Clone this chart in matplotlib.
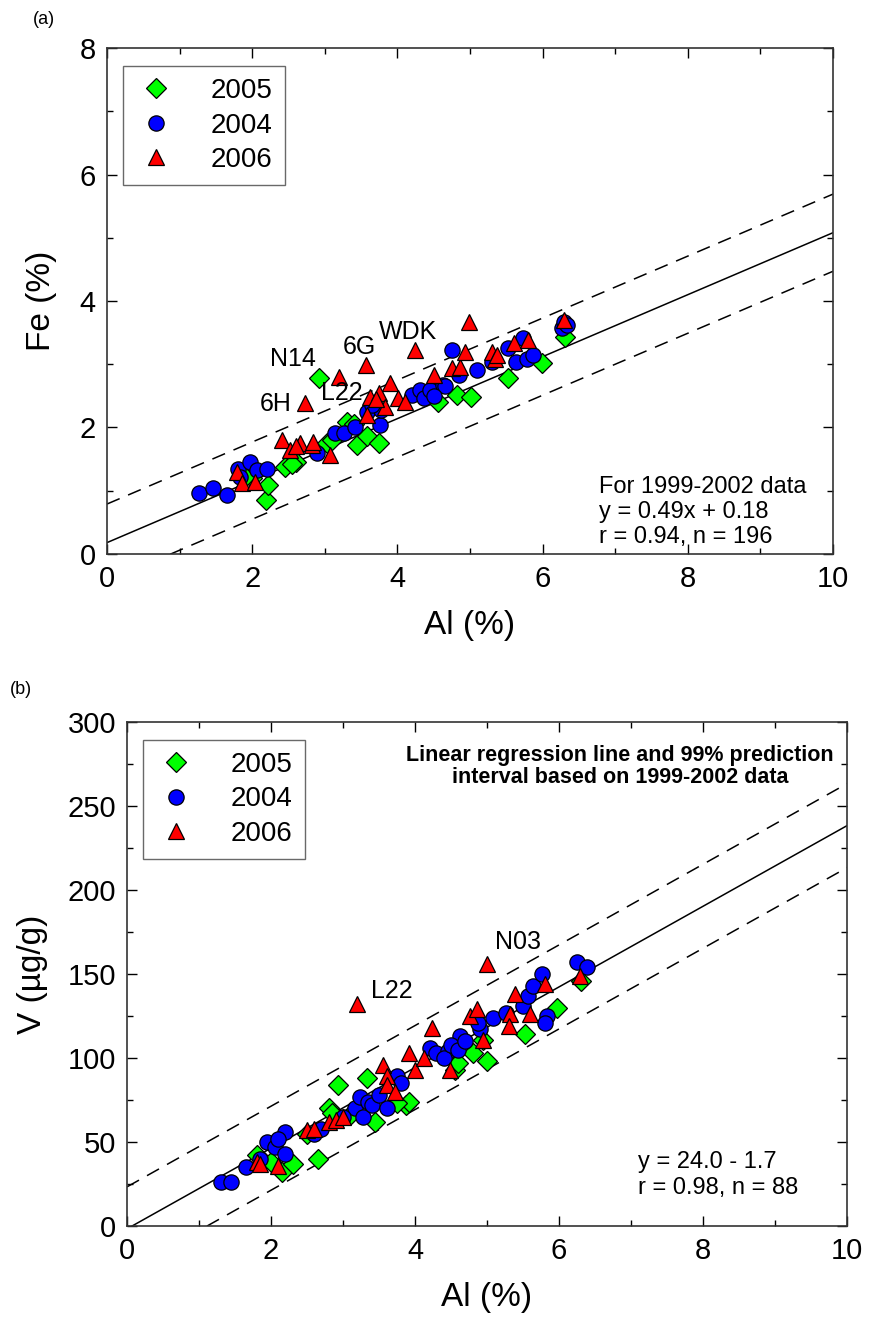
import matplotlib
matplotlib.use("Agg")
import matplotlib.pyplot as plt
import numpy as np
from matplotlib.ticker import MultipleLocator

plt.rcParams['font.family'] = ['Liberation Sans', 'DejaVu Sans']

# ---------------- Panel (a) data: Al (%) vs Fe (%) ----------------
a_2005_al = [2.92, 2.19, 2.22, 2.00, 2.45, 2.61, 2.55, 3.03, 3.30, 3.44, 3.58, 3.74, 3.40,
             4.56, 4.82, 5.02, 5.53, 5.99, 6.31, 1.90, 3.10]
a_2005_fe = [2.79, 0.85, 1.09, 1.20, 1.38, 1.46, 1.42, 1.75, 2.09, 1.72, 1.86, 1.75, 2.05,
             2.41, 2.51, 2.49, 2.78, 3.02, 3.43, 1.22, 1.80]

a_2004_al = [1.27, 1.46, 1.65, 1.81, 1.97, 2.06, 2.20, 1.83, 2.89, 3.14, 3.26, 3.42, 3.58,
             3.76, 3.77, 4.20, 4.31, 4.36, 4.45, 4.63, 4.66, 4.75, 5.09, 5.30, 5.53, 5.73,
             5.64, 5.78, 5.87, 6.27, 6.29, 6.33, 3.65, 4.50, 4.85]
a_2004_fe = [0.96, 1.04, 0.93, 1.35, 1.46, 1.33, 1.35, 1.22, 1.59, 1.91, 1.91, 2.01, 2.25,
             2.04, 2.28, 2.51, 2.59, 2.46, 2.59, 2.67, 2.65, 3.22, 2.91, 3.04, 3.25, 3.41,
             3.04, 3.09, 3.15, 3.58, 3.67, 3.62, 2.35, 2.50, 2.83]

a_2006_al = [1.79, 1.86, 2.04, 2.41, 2.52, 2.66, 2.82, 2.84, 3.07, 2.73, 3.19, 3.57, 4.24,
             4.99, 3.58, 3.62, 3.74, 3.83, 3.90, 4.01, 4.10, 4.50, 4.75, 4.86, 4.93, 5.30,
             5.34, 5.37, 5.60, 5.80, 6.29, 2.60, 3.70]
a_2006_fe = [1.30, 1.12, 1.14, 1.80, 1.64, 1.75, 1.72, 1.77, 1.56, 2.38, 2.80, 2.99, 3.22,
             3.67, 2.20, 2.49, 2.54, 2.33, 2.70, 2.46, 2.41, 2.83, 2.94, 2.96, 3.20, 3.20,
             3.09, 3.15, 3.33, 3.38, 3.70, 1.70, 2.45]

a_labels = ["N14", "6H", "L22", "6G", "WDK"]
a_label_x = [2.56, 2.33, 3.23, 3.48, 4.14]
a_label_y = [3.08, 2.37, 2.55, 3.27, 3.51]

a_slope, a_intercept, a_pi = 0.49, 0.18, 0.61

# ---------------- Panel (b) data: Al (%) vs V (ug/g) ----------------
b_2005_al = [1.80, 2.00, 2.15, 2.30, 2.65, 2.50, 2.80, 2.85, 2.93, 3.33, 3.45, 3.87, 3.91,
             3.75, 4.55, 4.60, 4.80, 5.00, 5.53, 5.97, 6.30, 4.95, 3.10]
b_2005_v = [42, 38, 32, 37, 40, 55, 70, 67, 84, 88, 62, 72, 74,
            73, 93, 97, 103, 98, 114, 130, 146, 111, 66]

b_2004_al = [1.30, 1.45, 1.65, 1.85, 1.95, 2.05, 2.20, 2.20, 2.60, 2.70, 3.16, 3.24, 3.28,
             3.35, 3.40, 3.61, 3.75, 3.80, 4.21, 4.29, 4.46, 4.40, 4.63, 4.90, 4.88, 5.09,
             5.27, 5.50, 5.57, 5.64, 5.76, 5.83, 5.81, 6.25, 6.39, 4.50, 4.60, 4.70, 3.50,
             3.00, 2.10]
b_2004_v = [26, 26, 35, 40, 50, 47, 56, 43, 55, 58, 70, 77, 65,
            74, 72, 70, 89, 85, 106, 103, 104, 100, 113, 117, 121, 124,
            127, 131, 137, 143, 150, 125, 121, 157, 154, 108, 105, 110, 78,
            65, 52]

b_2006_al = [1.80, 1.85, 2.10, 2.50, 2.60, 2.80, 2.90, 3.00, 3.19, 3.56, 3.61, 3.61, 3.72,
             3.91, 4.00, 4.12, 4.23, 4.49, 4.76, 4.86, 4.94, 5.00, 5.32, 5.30, 5.39, 5.60,
             5.81, 6.29]
b_2006_v = [38, 37, 36, 57, 58, 62, 63, 65, 132, 96, 89, 84, 80,
            103, 93, 100, 118, 93, 125, 129, 111, 156, 126, 119, 138, 126,
            144, 149]

b_labels = ["L22", "N03"]
b_label_x = [3.68, 5.43]
b_label_y = [140, 169]

b_slope, b_intercept, b_pi = 24.0, -1.7, 25.0

years = ["2005", "2004", "2006"]
colors = ["#00ff00", "#0000ff", "#ff0000"]
markers = ["D", "o", "^"]
msizes = [10, 11, 11.5]

W, H = 869, 1335
fig = plt.figure(figsize=(W / 100, H / 100), dpi=100)

ax_a = fig.add_axes([107 / W, 1 - 554 / H, 726 / W, 506 / H])
ax_b = fig.add_axes([127 / W, 1 - 1226 / H, 720 / W, 504 / H])


def style_axes(ax, xmaj, xmin, ymaj, ymin):
    ax.xaxis.set_major_locator(MultipleLocator(xmaj))
    ax.xaxis.set_minor_locator(MultipleLocator(xmin))
    ax.yaxis.set_major_locator(MultipleLocator(ymaj))
    ax.yaxis.set_minor_locator(MultipleLocator(ymin))
    ax.tick_params(which='both', direction='in', top=True, right=True, labelsize=21, width=1)
    ax.tick_params(which='major', length=7, pad=8)
    ax.tick_params(which='minor', length=4)
    for s in ax.spines.values():
        s.set_linewidth(1.2)
        s.set_color('#333333')


def draw_panel(ax, xs, ys, slope, intercept, pi):
    xl = np.array([0, 10])
    ax.plot(xl, slope * xl + intercept, color='black', lw=1.1, zorder=2)
    ax.plot(xl, slope * xl + intercept + pi, color='black', lw=1.1, ls=(0, (9, 6)), zorder=2)
    ax.plot(xl, slope * xl + intercept - pi, color='black', lw=1.1, ls=(0, (9, 6)), zorder=2)
    handles = []
    for (x, y), yr, c, m, ms in zip(zip(xs, ys), years, colors, markers, msizes):
        h, = ax.plot(x, y, ls='none', marker=m, ms=ms, mfc=c, mec='black', mew=0.9,
                     label=yr, zorder=3)
        handles.append(h)
    return handles


def make_legend(ax, handles):
    leg = ax.legend(handles=handles, loc='upper left', bbox_to_anchor=(0.022, 0.965),
                    fontsize=20, frameon=True, fancybox=False, edgecolor='#444444',
                    borderpad=0.45, handletextpad=1.2, labelspacing=0.3, handlelength=1.5,
                    borderaxespad=0)
    leg.get_frame().set_linewidth(1.0)
    return leg


# ---------- Panel (a) ----------
ha = draw_panel(ax_a, [a_2005_al, a_2004_al, a_2006_al], [a_2005_fe, a_2004_fe, a_2006_fe],
                a_slope, a_intercept, a_pi)
ax_a.set_xlim(0, 10)
ax_a.set_ylim(0, 8)
style_axes(ax_a, 2, 1, 2, 1)
ax_a.set_xlabel("Al (%)", fontsize=24, labelpad=12)
ax_a.set_ylabel("Fe (%)", fontsize=24, labelpad=16)
for t, x, y in zip(a_labels, a_label_x, a_label_y):
    ax_a.text(x, y, t, fontsize=18, ha='center', va='center', zorder=4)
ax_a.text(0.677, 0.155, "For 1999-2002 data\ny = 0.49x + 0.18\nr = 0.94, n = 196",
          transform=ax_a.transAxes, fontsize=17, ha='left', va='top', linespacing=1.2)
make_legend(ax_a, ha)
fig.text(33 / W, 1 - 20 / H, "(a)", fontsize=13, ha='left', va='center')

# ---------- Panel (b) ----------
hb = draw_panel(ax_b, [b_2005_al, b_2004_al, b_2006_al], [b_2005_v, b_2004_v, b_2006_v],
                b_slope, b_intercept, b_pi)
ax_b.set_xlim(0, 10)
ax_b.set_ylim(0, 300)
style_axes(ax_b, 2, 1, 50, 25)
ax_b.set_xlabel("Al (%)", fontsize=24, labelpad=12)
ax_b.set_ylabel("V (\u00b5g/g)", fontsize=24, labelpad=14)
for t, x, y in zip(b_labels, b_label_x, b_label_y):
    ax_b.text(x, y, t, fontsize=18, ha='center', va='center', zorder=4)
ax_b.text(0.685, 0.955, "Linear regression line and 99% prediction\ninterval based on 1999-2002 data",
          transform=ax_b.transAxes, fontsize=15.5, fontweight='bold', ha='center', va='top',
          linespacing=1.1)
ax_b.text(0.71, 0.148, "y = 24.0 - 1.7\nr = 0.98, n = 88",
          transform=ax_b.transAxes, fontsize=17, ha='left', va='top', linespacing=1.2)
make_legend(ax_b, hb)
fig.text(10 / W, 1 - 690 / H, "(b)", fontsize=13, ha='left', va='center')

fig.savefig("out.png", dpi=100)
